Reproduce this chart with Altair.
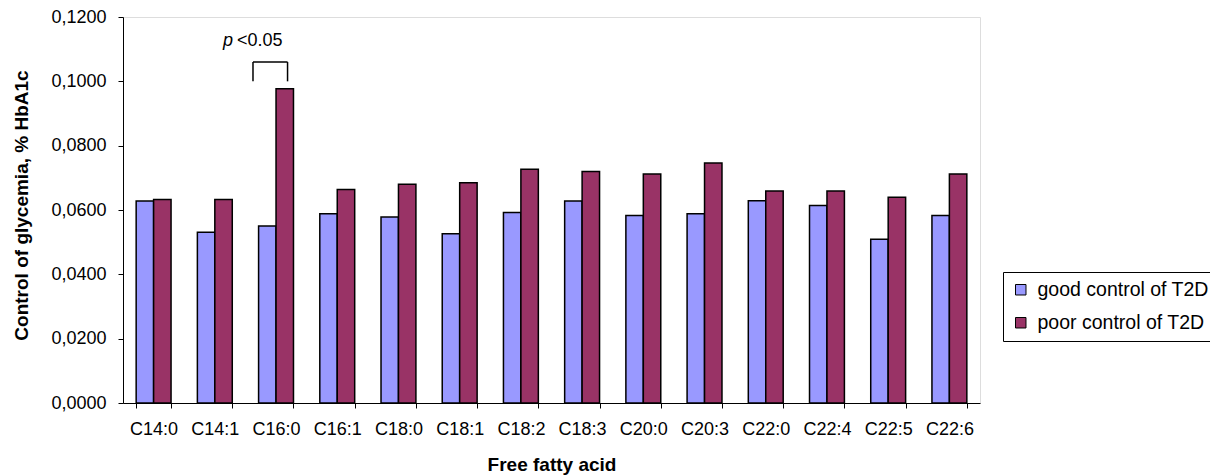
import altair as alt
import pandas as pd

acids = ["C14:0", "C14:1", "C16:0", "C16:1", "C18:0", "C18:1", "C18:2",
         "C18:3", "C20:0", "C20:3", "C22:0", "C22:4", "C22:5", "C22:6"]
good = [0.0628, 0.0531, 0.0550, 0.0588, 0.0578, 0.0526, 0.0592,
        0.0628, 0.0583, 0.0588, 0.0629, 0.0614, 0.0509, 0.0583]
poor = [0.0633, 0.0633, 0.0977, 0.0664, 0.0680, 0.0685, 0.0727,
        0.0720, 0.0712, 0.0746, 0.0659, 0.0659, 0.0640, 0.0712]
series_names = ["good control of T2D", "poor control of T2D"]
colors = ["#9999FF", "#993366"]
y_ticks = [0.0, 0.02, 0.04, 0.06, 0.08, 0.10, 0.12]

sig_acid = ["C16:0"]
bracket_low = [0.1000]
bracket_high = [0.1060]
label_y = [0.1111]

rows = []
for a, g, p in zip(acids, good, poor):
    rows.append({"acid": a, "series": series_names[0], "value": g})
    rows.append({"acid": a, "series": series_names[1], "value": p})
df = pd.DataFrame(rows)
ann = pd.DataFrame({"acid": sig_acid, "y0": bracket_low, "y1": bracket_high, "ty": label_y})

FONT = "Liberation Sans"
xscale = alt.Scale(domain=acids, paddingInner=0.43, paddingOuter=0.215)
yscale = alt.Scale(domain=[0, 0.12], nice=False, zero=True)

bars = alt.Chart(df).mark_bar(stroke="black", strokeWidth=1.5).encode(
    x=alt.X("acid:N", scale=xscale, sort=acids, title="Free fatty acid",
            axis=alt.Axis(tickBand="extent", labelAngle=0, labelFont=FONT, labelFontSize=18,
                          labelColor="black", labelBaseline="alphabetic", labelPadding=26,
                          tickSize=5, tickColor="black", domainColor="black", grid=False,
                          titleFont=FONT, titleFontSize=19, titleFontWeight="bold",
                          titleColor="black", titleY=67, titleBaseline="alphabetic")),
    xOffset=alt.XOffset("series:N", sort=series_names,
                        scale=alt.Scale(paddingInner=0, paddingOuter=0)),
    y=alt.Y("value:Q", scale=yscale, title="Control of glycemia, % HbA1c",
            axis=alt.Axis(values=y_ticks,
                          labelExpr="replace(format(datum.value, '.4f'), '.', ',')",
                          labelFont=FONT, labelFontSize=18, labelColor="black", labelPadding=12,
                          tickSize=5, tickColor="black", domainColor="black", grid=False,
                          titleFont=FONT, titleFontSize=19, titleFontWeight="bold",
                          titleColor="black", titleX=-102, titleY=188,
                          titleBaseline="middle")),
    color=alt.Color("series:N", scale=alt.Scale(domain=series_names, range=colors),
                    legend=alt.Legend(title=None, orient="none", legendX=880, legendY=255,
                                      padding=8, strokeColor="black", fillColor="white",
                                      symbolType="square", symbolSize=110,
                                      symbolStrokeColor="black", symbolStrokeWidth=1,
                                      labelFont=FONT, labelFontSize=19.5, labelColor="black",
                                      labelLimit=300, labelOffset=7, rowPadding=12)),
)

rule_style = dict(color="black", strokeWidth=1.5)
left_leg = alt.Chart(ann).mark_rule(xOffset=-5.6, **rule_style).encode(
    x=alt.X("acid:N", bandPosition=0, scale=xscale),
    y=alt.Y("y0:Q", scale=yscale), y2="y1:Q")
right_leg = alt.Chart(ann).mark_rule(**rule_style).encode(
    x=alt.X("acid:N", bandPosition=0.83, scale=xscale),
    y=alt.Y("y0:Q", scale=yscale), y2="y1:Q")
top_bar = alt.Chart(ann).mark_rule(xOffset=-5.6, **rule_style).encode(
    x=alt.X("acid:N", bandPosition=0, scale=xscale),
    x2=alt.X2("acid", bandPosition=0.83),
    y=alt.Y("y1:Q", scale=yscale))

p_text = alt.Chart(ann).mark_text(text="p", font=FONT, fontSize=18, fontStyle="italic",
                                  align="left", baseline="alphabetic", dx=-35.6,
                                  color="black").encode(
    x=alt.X("acid:N", bandPosition=0, scale=xscale),
    y=alt.Y("ty:Q", scale=yscale))
lt_text = alt.Chart(ann).mark_text(text="<0.05", font=FONT, fontSize=18,
                                   align="left", baseline="alphabetic", dx=-21.6,
                                   color="black").encode(
    x=alt.X("acid:N", bandPosition=0, scale=xscale),
    y=alt.Y("ty:Q", scale=yscale))

chart = alt.layer(bars, left_leg, right_leg, top_bar, p_text, lt_text).properties(
    width=857, height=386,
    autosize=alt.AutoSizeParams(type="none"),
    padding={"left": 115, "top": 9, "right": 230, "bottom": 80},
).configure_view(stroke="transparent").configure(background="white")

chart.save("out.html", embed_options={"renderer": "svg", "actions": False})
